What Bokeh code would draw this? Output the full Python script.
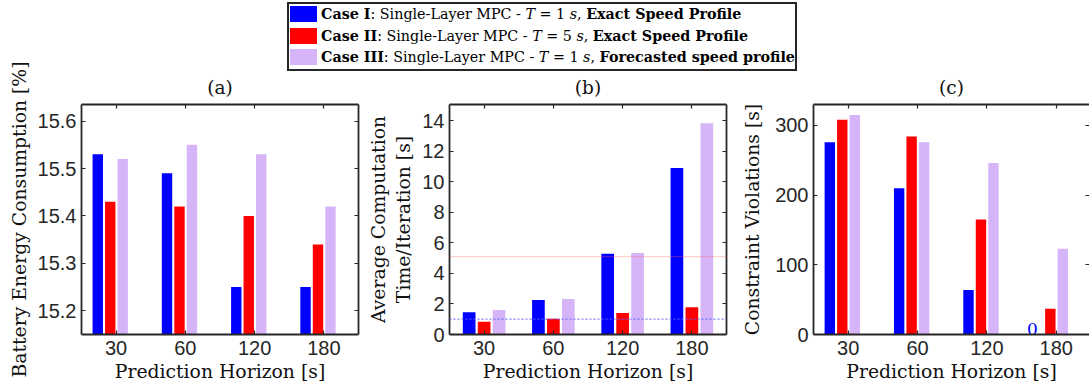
from bokeh.plotting import figure
from bokeh.models import Range1d, FixedTicker, LinearAxis, Span, Div, CustomJSTickFormatter, ColumnDataSource
from bokeh.layouts import row
from bokeh.core.properties import value
from bokeh.embed import file_html
from bokeh.resources import INLINE

# ---------------- data ----------------
horizons = ["30", "60", "120", "180"]
case_names = ["Case I", "Case II", "Case III"]
case_T = [1, 5, 1]
case_profiles = ["Exact Speed Profile", "Exact Speed Profile", "Forecasted speed profile"]
colors = ["#0000FF", "#FF0000", "#D5B5F8"]

energy_I = [15.53, 15.49, 15.25, 15.25]
energy_II = [15.43, 15.42, 15.40, 15.34]
energy_III = [15.52, 15.55, 15.53, 15.42]

comp_I = [1.45, 2.25, 5.29, 10.89]
comp_II = [0.83, 1.03, 1.40, 1.79]
comp_III = [1.60, 2.32, 5.33, 13.82]
comp_ref_lines = [1.0, 5.1]   # dotted reference lines (Case I / Case II sample time)

viol_I = [276, 210, 64, 0]
viol_II = [308, 284, 165, 37]
viol_III = [315, 276, 246, 123]

energy_ticks = [15.2, 15.3, 15.4, 15.5, 15.6]
comp_ticks = [0, 2, 4, 6, 8, 10, 12, 14]
viol_ticks = [0, 100, 200, 300]

AX = "#262626"
SERIF = "'DejaVu Serif', serif"
SANS = "'Liberation Sans', Arial, sans-serif"
idx = list(range(1, len(horizons) + 1))


def blank_axis(ticks, line):
    ax = LinearAxis(ticker=FixedTicker(ticks=ticks),
                    formatter=CustomJSTickFormatter(code="return ''"))
    ax.major_tick_in = 4
    ax.major_tick_out = 0
    ax.minor_tick_line_color = None
    ax.major_tick_line_color = AX
    ax.major_tick_line_width = 1.2
    ax.axis_line_color = AX if line else None
    ax.axis_line_width = 1.8
    ax.major_label_text_font_size = "0px"
    ax.major_label_standoff = 0
    return ax


def panel(title, ylab, series, yr, yticks, width, left, right, offsets, bw,
          ylab_standoff, x_end, right_line=True):
    p = figure(width=width, height=388, x_range=Range1d(0.5, x_end),
               y_range=Range1d(*yr), output_backend="svg", toolbar_location=None,
               min_border_left=left, min_border_right=right, min_border_top=104,
               min_border_bottom=54, title=title)
    p.outline_line_color = None
    p.background_fill_color = "white"
    p.border_fill_color = "white"
    p.xgrid.visible = False
    p.ygrid.visible = False
    p.title.text_font = SERIF
    p.title.text_font_size = "18.5px"
    p.title.text_font_style = "normal"
    p.title.align = "center"
    p.title.text_color = "#111111"
    p.title.standoff = 13

    for vals, off, c in zip(series, offsets, colors):
        src = ColumnDataSource(dict(x=[i + off for i in idx], top=vals))
        p.vbar(x="x", top="top", bottom=yr[0] - 1000, width=bw, source=src,
               fill_color=c, line_color=None)

    for ax in (p.xaxis[0], p.yaxis[0]):
        ax.axis_line_color = AX
        ax.axis_line_width = 1.8
        ax.major_tick_in = 4
        ax.major_tick_out = 0
        ax.major_tick_line_color = AX
        ax.major_tick_line_width = 1.2
        ax.minor_tick_line_color = None
        ax.major_label_text_font = SANS
        ax.major_label_text_font_size = "20px"
        ax.major_label_text_color = AX
        ax.axis_label_text_font = SERIF
        ax.axis_label_text_font_size = "18.8px"
        ax.axis_label_text_font_style = "normal"
        ax.axis_label_text_color = "#111111"

    p.xaxis.ticker = FixedTicker(ticks=idx)
    p.xaxis.major_label_overrides = {i: h for i, h in zip(idx, horizons)}
    p.xaxis.axis_label = "Prediction Horizon [s]"
    p.xaxis.major_label_standoff = 6
    p.xaxis.axis_label_standoff = 3

    p.yaxis.ticker = FixedTicker(ticks=yticks)
    p.yaxis.axis_label = ylab
    p.yaxis.major_label_standoff = 5
    p.yaxis.axis_label_standoff = ylab_standoff

    p.add_layout(blank_axis(idx, True), "above")
    p.add_layout(blank_axis(yticks, right_line), "right")
    return p


pa = panel("(a)", "Battery Energy Consumption [%]",
           [energy_I, energy_II, energy_III], (15.15, 15.635), energy_ticks,
           365, 81, 7, [-0.265, -0.085, 0.095], 0.15, 5, 4.5)

pb = panel("(b)", "Average Computation\nTime/Iteration [s]",
           [comp_I, comp_II, comp_III], (0, 15.05), comp_ticks,
           370, 84, 9, [-0.216, 0.0, 0.216], 0.183, 5, 4.5)
pb.add_layout(Span(location=comp_ref_lines[0], dimension="width",
                   line_color="#6060FF", line_alpha=0.8, line_dash="2 2", line_width=1.2))
pb.add_layout(Span(location=comp_ref_lines[1], dimension="width",
                   line_color="#FF6060", line_alpha=0.6, line_dash="1 1", line_width=1.2))

pc = panel("(c)", "Constraint Violations [s]",
           [viol_I, viol_II, viol_III], (0, 330), viol_ticks,
           354, 78, 0, [-0.265, -0.085, 0.095], 0.15, 9, 0.5 + 276 / 69.35,
           right_line=False)
zero_x = [i - 0.265 - 0.08 for i, v in zip(idx, viol_I) if v == 0]
zero_t = [str(v) for v in viol_I if v == 0]
pc.text(x=zero_x, y=[0] * len(zero_x), text=zero_t, text_font=value(SERIF),
        text_font_size="17px", text_color="#0000FF", text_align="center",
        text_baseline="bottom")

# ---------------- legend (HTML overlay) ----------------
rows_html = ""
for name, T, prof, c in zip(case_names, case_T, case_profiles, colors):
    rows_html += (
        '<div style="height:21.7px;line-height:21.7px;white-space:nowrap;">'
        f'<span style="display:inline-block;width:27px;height:16px;background:{c};'
        'vertical-align:middle;margin:0 4px 0 1px;position:relative;top:-1px;"></span>'
        f'<b>{name}</b>: Single-Layer MPC - <i>T</i> = {T} <i>s</i>, <b>{prof}</b></div>'
    )
legend_html = (
    '<div style="box-sizing:border-box;width:510px;height:69px;'
    'border:2px solid #262626;background:#fff;padding:0;'
    "font-family:'DejaVu Serif', serif;font-size:14.3px;color:#000;overflow:hidden;\">"
    + rows_html + '</div>'
)
legend = Div(text=legend_html, width=510, height=69, margin=0,
             styles={"position": "absolute", "left": "287px", "top": "2px", "z-index": "10"})

layout = row(pa, pb, pc, legend)
open("out.html", "w").write(file_html(layout, INLINE))
